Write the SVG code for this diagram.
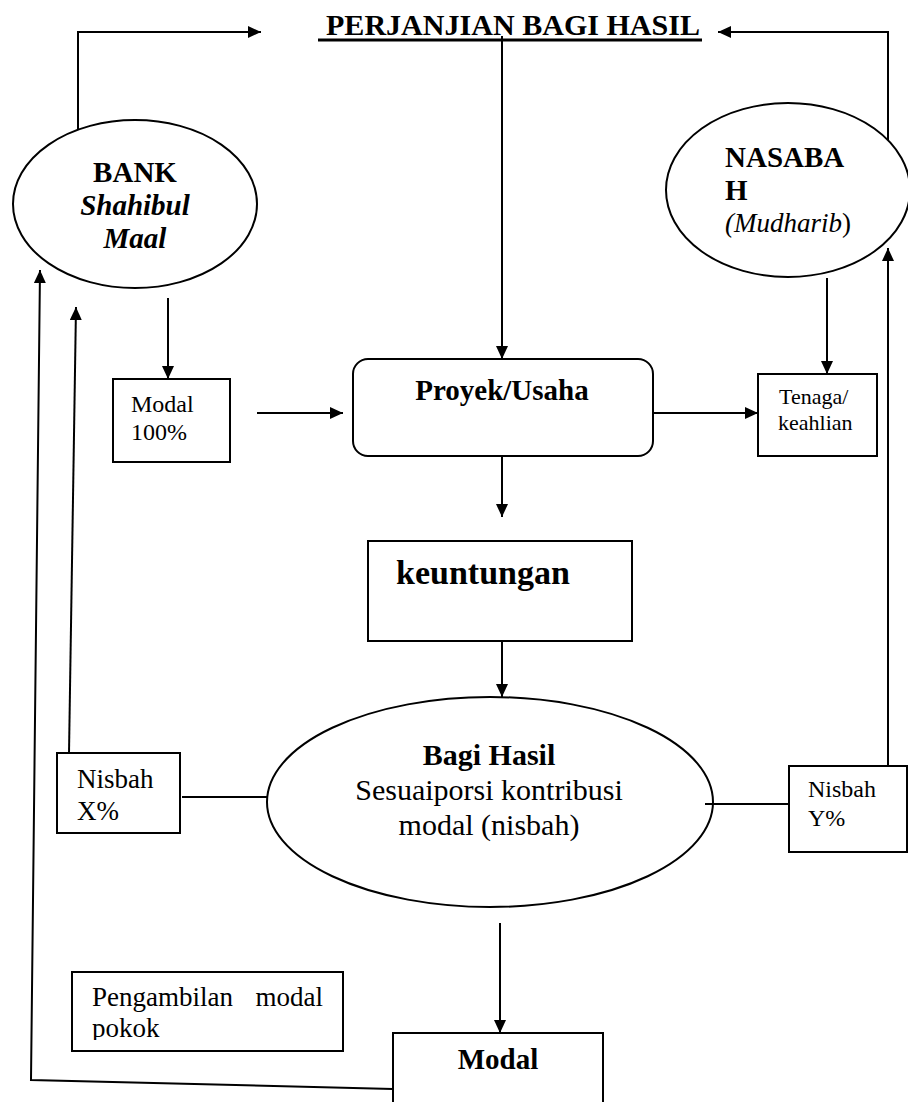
<svg xmlns="http://www.w3.org/2000/svg" width="908" height="1102" viewBox="0 0 908 1102">
<style>
text{font-family:"Liberation Serif","Times New Roman",serif;fill:#000}
.b{font-weight:bold}
.i{font-style:italic}
.shape{fill:#fff;stroke:#000;stroke-width:2}
.ln{fill:none;stroke:#000;stroke-width:2}
</style>
<defs>
<marker id="ah" markerUnits="userSpaceOnUse" markerWidth="14" markerHeight="14" refX="13" refY="6" orient="auto">
<path d="M0,0 L13,6 L0,12 z" fill="#000"/>
</marker>
</defs>
<rect width="908" height="1102" fill="#fff"/>

<g id="title">
<text x="326" y="35" class="b" font-size="29" textLength="374" lengthAdjust="spacingAndGlyphs">PERJANJIAN BAGI HASIL</text>
<line x1="318" y1="40" x2="702" y2="40" stroke="#000" stroke-width="3"/>
</g>

<g id="bank">
<ellipse class="shape" cx="135" cy="204" rx="122" ry="84"/>
<text x="135" y="182" class="b" font-size="29" text-anchor="middle">BANK</text>
<text x="135" y="215" class="b i" font-size="29" text-anchor="middle">Shahibul</text>
<text x="135" y="248" class="b i" font-size="29" text-anchor="middle">Maal</text>
</g>

<g id="nasabah">
<ellipse class="shape" cx="788" cy="190" rx="122" ry="87"/>
<text x="725" y="167" class="b" font-size="29">NASABA</text>
<text x="725" y="200" class="b" font-size="29">H</text>
<text x="725" y="232" font-size="27"><tspan class="i">(Mudharib</tspan>)</text>
</g>

<g id="modal100">
<rect class="shape" x="113" y="379" width="117" height="83"/>
<text x="131" y="412" font-size="24">Modal</text>
<text x="131" y="440" font-size="24">100%</text>
</g>

<g id="proyek">
<rect class="shape" x="353" y="359" width="300" height="97" rx="15" ry="15"/>
<text x="502" y="400" class="b" font-size="29" text-anchor="middle">Proyek/Usaha</text>
</g>

<g id="tenaga">
<rect class="shape" x="758" y="374" width="119" height="82"/>
<text x="779" y="404" font-size="22">Tenaga/</text>
<text x="778" y="430" font-size="22">keahlian</text>
</g>

<g id="keuntungan">
<rect class="shape" x="368" y="541" width="264" height="100"/>
<text x="396" y="584" class="b" font-size="34">keuntungan</text>
</g>

<g id="bagihasil">
<ellipse class="shape" cx="490" cy="802" rx="223" ry="105"/>
<text x="489" y="765" class="b" font-size="30" text-anchor="middle">Bagi Hasil</text>
<text x="489" y="800" font-size="30" text-anchor="middle">Sesuaiporsi kontribusi</text>
<text x="489" y="835" font-size="30" text-anchor="middle">modal (nisbah)</text>
</g>

<g id="nisbahx">
<rect class="shape" x="57" y="753" width="123" height="80"/>
<text x="77" y="788" font-size="27">Nisbah</text>
<text x="77" y="820" font-size="27">X%</text>
</g>

<g id="nisbahy">
<rect class="shape" x="789" y="766" width="118" height="86"/>
<text x="808" y="797" font-size="24">Nisbah</text>
<text x="808" y="826" font-size="24">Y%</text>
</g>

<g id="pengambilan">
<rect class="shape" x="72" y="972" width="271" height="79"/>
<clipPath id="pc"><rect x="72" y="972" width="271" height="68"/></clipPath>
<g clip-path="url(#pc)">
<text x="92" y="1006" font-size="27">Pengambilan</text>
<text x="323" y="1006" font-size="27" text-anchor="end">modal</text>
<text x="92" y="1037" font-size="27">pokok</text>
</g>
</g>

<g id="modal">
<rect class="shape" x="393" y="1033" width="210" height="80"/>
<text x="498" y="1069" class="b" font-size="29" text-anchor="middle">Modal</text>
</g>

<g id="connectors">
<polyline class="ln" points="78,130 78,32 261,32" marker-end="url(#ah)"/>
<polyline class="ln" points="888,140 888,32 718,32" marker-end="url(#ah)"/>
<line class="ln" x1="502" y1="36" x2="502" y2="359" marker-end="url(#ah)"/>
<line class="ln" x1="168" y1="298" x2="168" y2="379" marker-end="url(#ah)"/>
<line class="ln" x1="257" y1="413" x2="343" y2="413" marker-end="url(#ah)"/>
<line class="ln" x1="653" y1="413" x2="758" y2="413" marker-end="url(#ah)"/>
<line class="ln" x1="827" y1="278" x2="827" y2="374" marker-end="url(#ah)"/>
<line class="ln" x1="502" y1="456" x2="502" y2="517" marker-end="url(#ah)"/>
<line class="ln" x1="502" y1="641" x2="502" y2="697" marker-end="url(#ah)"/>
<line class="ln" x1="182" y1="797" x2="268" y2="797"/>
<line class="ln" x1="705" y1="804" x2="789" y2="804"/>
<line class="ln" x1="69" y1="753" x2="76" y2="307" marker-end="url(#ah)"/>
<line class="ln" x1="888" y1="766" x2="888" y2="248" marker-end="url(#ah)"/>
<line class="ln" x1="500" y1="923" x2="500" y2="1033" marker-end="url(#ah)"/>
<polyline class="ln" points="393,1089 31,1080 40,270" marker-end="url(#ah)"/>
</g>
</svg>
